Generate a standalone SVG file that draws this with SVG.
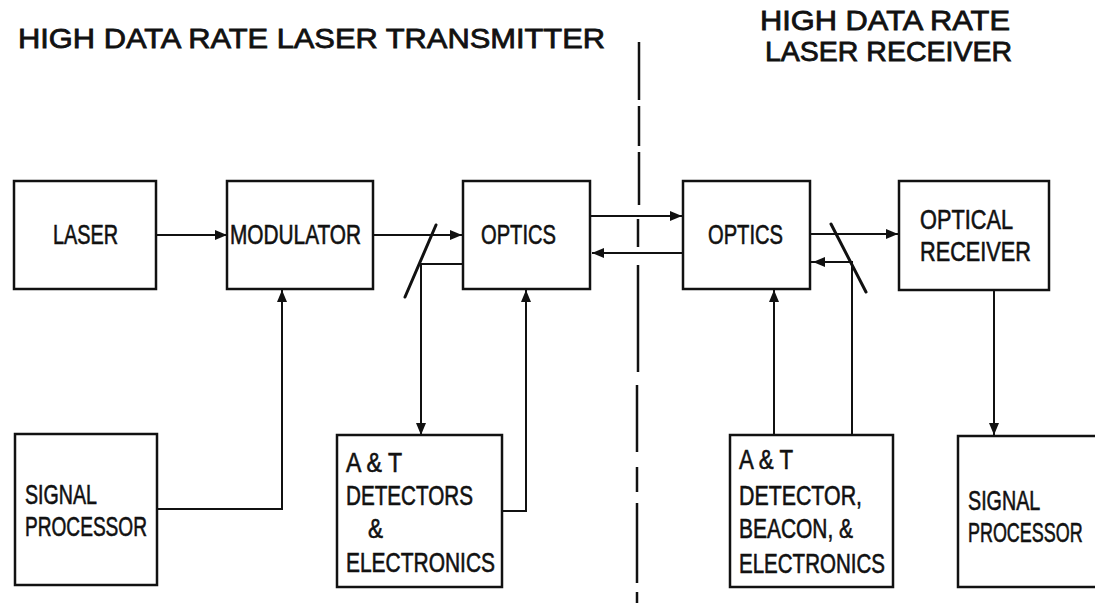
<svg xmlns="http://www.w3.org/2000/svg" width="1095" height="605" viewBox="0 0 1095 605">
<style>
.box{fill:none;stroke:#111;stroke-width:2.5}
.ln{fill:none;stroke:#111;stroke-width:2}
.spl{fill:none;stroke:#111;stroke-width:3;stroke-linecap:round}
.t{font-family:"Liberation Sans",Arial,sans-serif;font-size:27px;fill:#111;stroke:#111;stroke-width:0.6}
.h{font-family:"Liberation Sans",Arial,sans-serif;font-size:28px;fill:#111;stroke:#111;stroke-width:0.8}
</style>
<defs>
<marker id="ah" markerUnits="userSpaceOnUse" markerWidth="13" markerHeight="10" refX="12" refY="5" orient="auto">
<path d="M0,0 L12,5 L0,10 z" fill="#111"/>
</marker>
</defs>
<rect width="1095" height="605" fill="#fff"/>
<g id="titles">
<text class="h" x="18" y="48" textLength="587" lengthAdjust="spacingAndGlyphs">HIGH DATA RATE LASER TRANSMITTER</text>
<text class="h" x="760" y="30" textLength="250" lengthAdjust="spacingAndGlyphs">HIGH DATA RATE</text>
<text class="h" x="765" y="61" textLength="247" lengthAdjust="spacingAndGlyphs">LASER RECEIVER</text>
</g>
<g id="divider">
<path class="box" d="M639,42 V100 M639,106 V146 M639,152 V205 M638,219 V247 M638,265 V372 M637,385 V452 M637,467 V492 M637,503 V583 M637,592 V603"/>
</g>
<g id="laser">
<rect class="box" x="14" y="181" width="142" height="108"/>
<text class="t" x="53" y="244" textLength="65" lengthAdjust="spacingAndGlyphs">LASER</text>
</g>
<g id="modulator">
<rect class="box" x="227" y="181" width="146" height="108"/>
<text class="t" x="230" y="244" textLength="131" lengthAdjust="spacingAndGlyphs">MODULATOR</text>
</g>
<g id="optics-tx">
<rect class="box" x="463" y="181" width="127" height="108"/>
<text class="t" x="481" y="244" textLength="75" lengthAdjust="spacingAndGlyphs">OPTICS</text>
</g>
<g id="optics-rx">
<rect class="box" x="683" y="181" width="127" height="108"/>
<text class="t" x="708" y="244" textLength="75" lengthAdjust="spacingAndGlyphs">OPTICS</text>
</g>
<g id="optical-receiver">
<rect class="box" x="899" y="181" width="150" height="109"/>
<text class="t" x="920" y="229" textLength="93" lengthAdjust="spacingAndGlyphs">OPTICAL</text>
<text class="t" x="920" y="261" textLength="111" lengthAdjust="spacingAndGlyphs">RECEIVER</text>
</g>
<g id="signal-processor-tx">
<rect class="box" x="15" y="434" width="142" height="151"/>
<text class="t" x="25" y="504" textLength="72" lengthAdjust="spacingAndGlyphs">SIGNAL</text>
<text class="t" x="25" y="536" textLength="122" lengthAdjust="spacingAndGlyphs">PROCESSOR</text>
</g>
<g id="at-detectors-tx">
<rect class="box" x="337" y="435" width="165" height="152"/>
<text class="t" x="346" y="472" textLength="56" lengthAdjust="spacingAndGlyphs">A &amp; T</text>
<text class="t" x="346" y="505" textLength="127" lengthAdjust="spacingAndGlyphs">DETECTORS</text>
<text class="t" x="368" y="538" textLength="15" lengthAdjust="spacingAndGlyphs">&amp;</text>
<text class="t" x="346" y="572" textLength="149" lengthAdjust="spacingAndGlyphs">ELECTRONICS</text>
</g>
<g id="at-detector-rx">
<rect class="box" x="730" y="435" width="163" height="152"/>
<text class="t" x="739" y="469" textLength="54" lengthAdjust="spacingAndGlyphs">A &amp; T</text>
<text class="t" x="739" y="505" textLength="123" lengthAdjust="spacingAndGlyphs">DETECTOR,</text>
<text class="t" x="739" y="538" textLength="114" lengthAdjust="spacingAndGlyphs">BEACON, &amp;</text>
<text class="t" x="739" y="573" textLength="146" lengthAdjust="spacingAndGlyphs">ELECTRONICS</text>
</g>
<g id="signal-processor-rx">
<path class="box" d="M1097,436 H958 V587 H1097"/>
<text class="t" transform="translate(968,510) scale(0.73,1)">SIGNAL</text>
<text class="t" transform="translate(968,542) scale(0.665,1)">PROCESSOR</text>
</g>
<g id="connectors">
<path class="ln" d="M156,235 H227" marker-end="url(#ah)"/>
<path class="ln" d="M373,235 H462" marker-end="url(#ah)"/>
<path class="ln" d="M463,264 H421 V435" marker-end="url(#ah)"/>
<path class="spl" d="M405,297 L436,225"/>
<path class="ln" d="M157,509 H282 V290" marker-end="url(#ah)"/>
<path class="ln" d="M502,511 H526 V290" marker-end="url(#ah)"/>
<path class="ln" d="M590,216 H682" marker-end="url(#ah)"/>
<path class="ln" d="M683,253 H592" marker-end="url(#ah)"/>
<path class="ln" d="M810,234 H898" marker-end="url(#ah)"/>
<path class="ln" d="M852,435 V262 H813" marker-end="url(#ah)"/>
<path class="ln" d="M813,262 H810"/>
<path class="spl" d="M831,224 L866,292"/>
<path class="ln" d="M774,435 V290" marker-end="url(#ah)"/>
<path class="ln" d="M994,290 V435" marker-end="url(#ah)"/>
</g>
</svg>
